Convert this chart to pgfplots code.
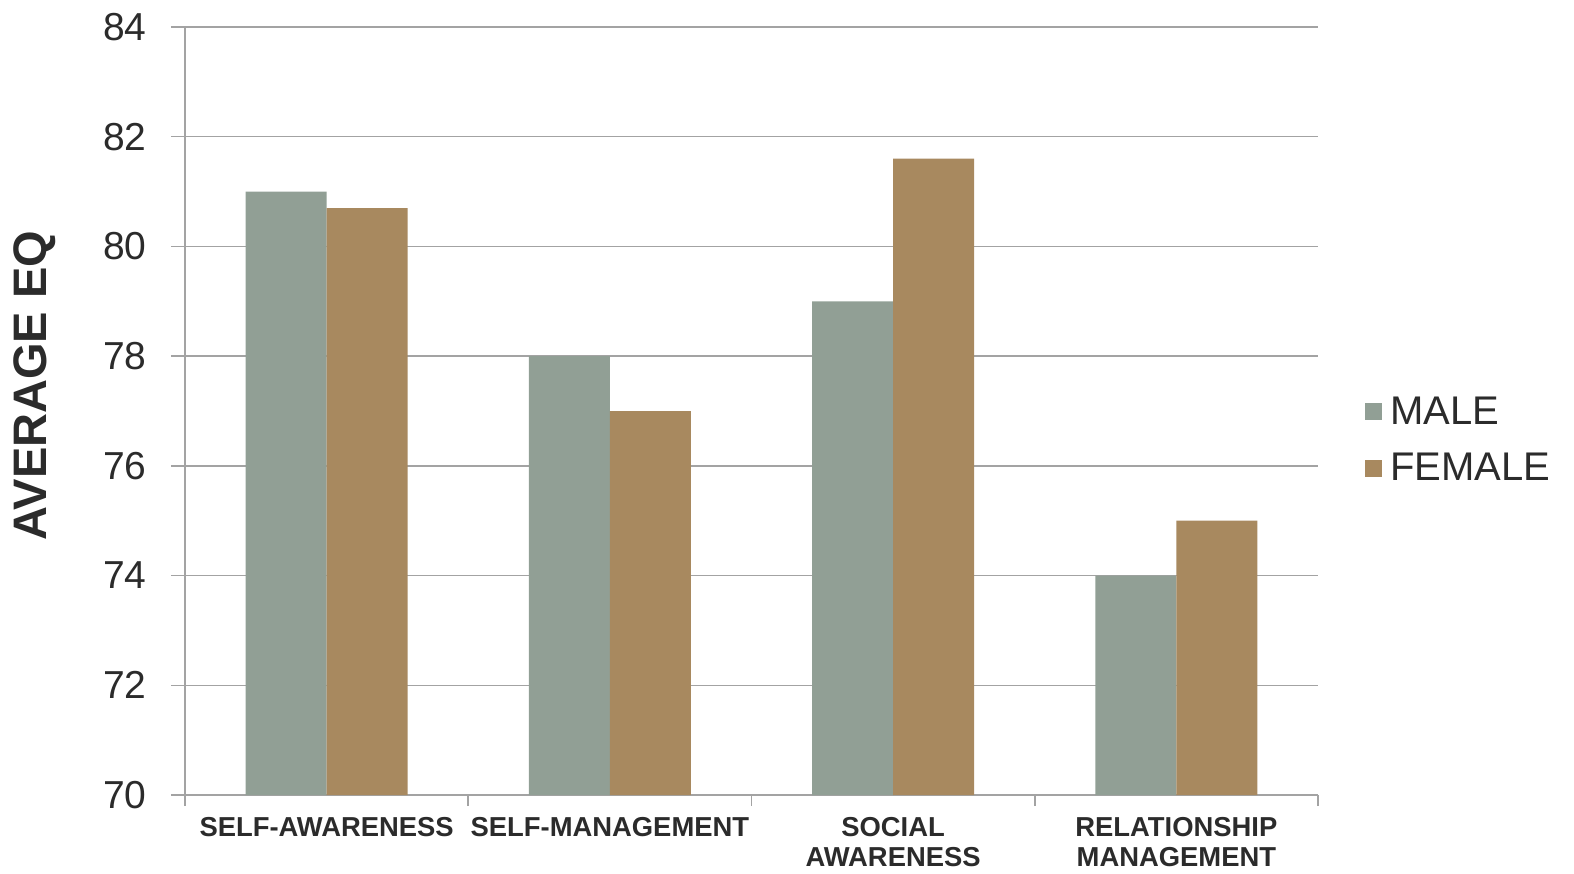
\documentclass[border=0pt]{standalone}
\usepackage{pgfplots}
\pgfplotsset{compat=1.18}
\usepackage{fontspec}
\setmainfont{Liberation Sans}
\definecolor{male}{HTML}{919F95}
\definecolor{female}{HTML}{A8895F}
\definecolor{gridc}{HTML}{A3A3A3}
\definecolor{txt}{HTML}{2B2B2B}
\begin{document}
\begin{tikzpicture}
\begin{axis}[
  at={(0,0)}, anchor=south west,
  scale only axis,
  width=566.5pt, height=384pt,
  xmin=-0.5, xmax=3.5,
  ymin=70, ymax=84,
  ytick={70,72,...,84},
  xtick={0,1,2,3},
  xticklabels={SELF-AWARENESS,SELF-MANAGEMENT,SOCIAL\\AWARENESS,RELATIONSHIP\\MANAGEMENT},
  minor xtick={-0.5,0.5,1.5,2.5,3.5},
  major x tick style={draw=none},
  minor x tick style={draw=gridc, line width=0.75pt},
  minor tick length=5.5pt,
  major tick length=7pt,
  tick align=outside,
  tick pos=left,
  axis lines*=left,
  axis line style={draw=gridc, line width=0.75pt},
  ytick style={draw=gridc, line width=0.75pt},
  ymajorgrids,
  grid style={draw=gridc, line width=0.75pt},
  ybar=0pt,
  bar width=40.5pt,
  /pgf/number format/assume math mode=true,
  yticklabel style={font=\fontsize{19.5}{22}\selectfont, text=txt, inner sep=0pt, xshift=-12pt},
  xticklabel style={font=\fontsize{13.7}{15}\bfseries\selectfont, text=txt, align=center, anchor=north, inner sep=0pt, yshift=-4pt},
  ylabel={AVERAGE EQ},
  ylabel style={font=\fontsize{23.5}{26}\bfseries\selectfont, text=txt, at={(axis description cs:-0.1324,0.533)}, anchor=center},
  legend style={draw=none, fill=none, at={(rel axis cs:1.036,0.462)}, anchor=west,
    font=\fontsize{20}{24}\selectfont, text=txt, row sep=9pt,
    legend cell align=left},
  legend image code/.code={\fill[#1] (0pt,-4.25pt) rectangle (8.5pt,4.25pt);\path (10.5pt,0pt);},
  clip=false,
]
\addplot[fill=male, draw=none] coordinates {(0,81.0) (1,78.0) (2,79.0) (3,74.0)};
\addplot[fill=female, draw=none] coordinates {(0,80.7) (1,77.0) (2,81.6) (3,75.0)};
\legend{MALE,FEMALE}
\end{axis}
\pgfresetboundingbox
\useasboundingbox (-92.5pt,-39pt) rectangle (694.5pt,397.5pt);
\end{tikzpicture}
\end{document}
